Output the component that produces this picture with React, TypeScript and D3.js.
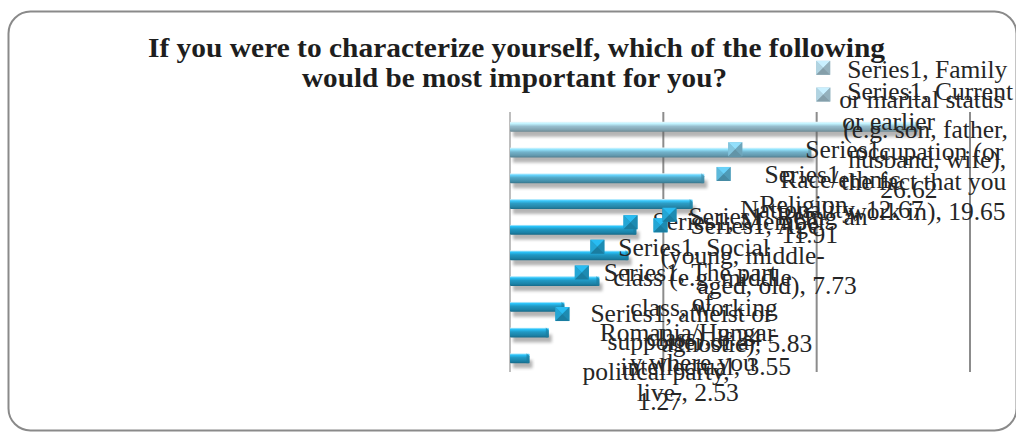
import React from "react";
import * as d3 from "d3";

// ---------- data ----------
const seriesName = "Series1";
const categories = [
  "Family or marital status (e.g. son, father, husband, wife)",
  "Current or earlier occupation (or the fact that you work in)",
  "Race/ethnic group, Nationality",
  "Religion",
  "Social class (e.g. middle class, working class)",
  "Age (young, middle-aged, old)",
  "Atheist or agnostic",
  "Being an intellectual",
  "The part of Romania/Hungary where you live",
  "Member or supporter of a political party",
];
const values = [26.62, 19.65, 12.67, 11.91, 8.24, 7.73, 5.83, 3.55, 2.53, 1.27];
const xTicks = [0, 10, 20, 30];
const titleLines = [
  "If you were to characterize yourself, which of the following",
  "would be most important for you?",
];
// wrapped data-label text, one list per category ("" = line hidden under others)
const labelText = [
  [`${seriesName}, Family`, "or marital status", "(e.g. son, father,", "husband, wife),", "26.62"],
  [`${seriesName}, Current`, "or earlier", "occupation (or", "the fact that you", "work in), 19.65"],
  [`${seriesName},`, "Race/ethnic", "Nationality, 12.67"],
  [`${seriesName},`, "Religion,", "11.91"],
  [`${seriesName}, Social`, "class (e.g. middle", "class, working", "class), 8.24"],
  [`${seriesName}, Age`, "(young, middle-", "aged, old), 7.73"],
  [`${seriesName}, atheist or`, "agnostic), 5.83"],
  [`${seriesName}, Being an`, "", "", "", "", "intellectual, 3.55"],
  [`${seriesName}, The part`, "of", "Romania/Hungar", "y where you", "live., 2.53"],
  [`${seriesName}, Member`, "", "", "", "supporter of a", "political party,", "1.27"],
];

// ---------- layout (offsets of the label boxes, relative to bar end / band centre) ----------
const labelLayout = [
  { kdx: -102, kdy: -66, by: 17, dx: [31, 23, 27, 32, 64] },
  { kdx: 5, kdy: -65, by: 12, dx: [31, 26, 39, 25, 32] },
  { kdx: 24, kdy: -36, by: 16, dx: [77, 52, 12] },
  { kdx: 24, kdy: -37, by: 16, dx: [48, 43, 65] },
  { kdx: -46, kdy: 10, by: 16, dx: [28, 23, 40, 56] },
  { kdx: 25, kdy: -37, by: 16, dx: [37, 7, 44] },
  { kdx: -44, kdy: 26, by: 15, dx: [35, 106] },
  { kdx: 98, kdy: -99, by: 17, dx: [26, 0, 0, 0, 0, -42] },
  { kdx: 26, kdy: -67, by: 16, dx: [29, 117, 25, 55, 62] },
  { kdx: 94, kdy: -143, by: 15, dx: [29, 0, 0, 0, -16, -41, 14] },
];

const W = 1016;
const H = 432;
const FONT = "'Liberation Serif', 'Times New Roman', serif";
const LINE_H = 30;
const KEY = 14;

export default function App() {
  const x = d3.scaleLinear().domain([0, 30]).range([510, 970]);
  const y = d3.scaleBand<string>().domain(categories).range([114, 371]);
  const bw = y.bandwidth();
  const plotTop = 112;
  const plotBottom = 372;

  const colorAt = (py: number) =>
    d3.interpolateRgb("#a2c2cf", "#2098c3")(Math.max(0, Math.min(1, (py - 118) / 95)));

  const bars = categories.map((c, i) => {
    const yc = (y(c) as number) + bw / 2;
    const x1 = x(values[i]);
    return { c, i, yc, x1, col: colorAt(yc) };
  });

  const labels = bars.map((b, i) => {
    const L = labelLayout[i];
    const kx = b.x1 + L.kdx;
    const ky = b.yc + L.kdy;
    return {
      kx,
      ky,
      col: colorAt(ky + KEY / 2),
      lines: labelText[i].map((t, j) => ({ t, x: kx + L.dx[j], y: ky + L.by + j * LINE_H })),
    };
  });

  const shade = (col: string, k: number) =>
    k >= 0 ? d3.color(col)!.brighter(k).formatHex() : d3.color(col)!.darker(-k).formatHex();

  return (
    <svg
      width={W}
      height={H}
      style={{ position: "absolute", left: 0, top: 0, background: "#fff" }}
      fontFamily={FONT}
    >
      <defs>
        <filter id="blur" x="-10%" y="-100%" width="120%" height="300%">
          <feGaussianBlur stdDeviation="1.8" />
        </filter>
        {bars.map((b) => (
          <linearGradient key={b.i} id={`bg${b.i}`} x1="0" y1="0" x2="0" y2="1">
            <stop offset="0" stopColor="#e6f8fd" />
            <stop offset="0.18" stopColor={shade(b.col, 0.7)} />
            <stop offset="0.45" stopColor={b.col} />
            <stop offset="0.8" stopColor={shade(b.col, -0.45)} />
            <stop offset="1" stopColor={shade(b.col, -1)} />
          </linearGradient>
        ))}
      </defs>

      {/* chart border */}
      <rect x={8.5} y={11.5} width={1008} height={419} rx={22} fill="#fff" stroke="#8a8a8a" strokeWidth={2} />

      {/* title */}
      <g fontWeight="bold" fill="#1e1e1e" fontSize={28}>
        <text x={148} y={57} textLength={737} lengthAdjust="spacingAndGlyphs">
          {titleLines[0]}
        </text>
        <text x={302} y={87} textLength={425} lengthAdjust="spacingAndGlyphs">
          {titleLines[1]}
        </text>
      </g>

      {/* gridlines */}
      {xTicks.map((t) => (
        <line
          key={t}
          x1={x(t)}
          x2={x(t)}
          y1={plotTop}
          y2={plotBottom}
          stroke={t === 0 ? "#a8a8a8" : "#8c8c8c"}
          strokeWidth={t === 0 ? 1.5 : 2}
        />
      ))}

      {/* bars */}
      {bars.map((b) => (
        <g key={b.c}>
          <rect
            x={x(0) + 3}
            y={b.yc + 2}
            width={b.x1 - x(0)}
            height={8}
            fill="#5a5a5a"
            opacity={0.45}
            filter="url(#blur)"
          />
          <rect x={x(0)} y={b.yc - 5} width={b.x1 - x(0)} height={10} rx={1} fill={`url(#bg${b.i})`} />
          <polygon
            points={`${b.x1 - 3},${b.yc - 5} ${b.x1},${b.yc - 2} ${b.x1},${b.yc + 5} ${b.x1 - 3},${b.yc + 5}`}
            fill={shade(b.col, -0.6)}
            opacity={0.6}
          />
        </g>
      ))}

      {/* data label texts */}
      <g fontSize={25.5} fill="#262626">
        {labels.map((l, i) =>
          l.lines.map((ln, j) =>
            ln.t ? (
              <text key={`${i}-${j}`} x={ln.x} y={ln.y}>
                {ln.t}
              </text>
            ) : null
          )
        )}
      </g>

      {/* legend keys of the data labels */}
      {labels.map((l, i) => {
        const s = KEY;
        const { kx, ky, col } = l;
        const cx = kx + s / 2;
        const cy = ky + s / 2;
        return (
          <g key={`k${i}`}>
            <rect x={kx} y={ky} width={s} height={s} fill={col} />
            <polygon points={`${kx},${ky} ${kx + s},${ky} ${cx},${cy}`} fill={shade(col, 0.6)} />
            <polygon points={`${kx},${ky} ${kx},${ky + s} ${cx},${cy}`} fill={shade(col, 0.25)} />
            <polygon points={`${kx + s},${ky} ${kx + s},${ky + s} ${cx},${cy}`} fill={shade(col, -0.25)} />
            <polygon points={`${kx},${ky + s} ${kx + s},${ky + s} ${cx},${cy}`} fill={shade(col, -0.55)} />
          </g>
        );
      })}
    </svg>
  );
}
